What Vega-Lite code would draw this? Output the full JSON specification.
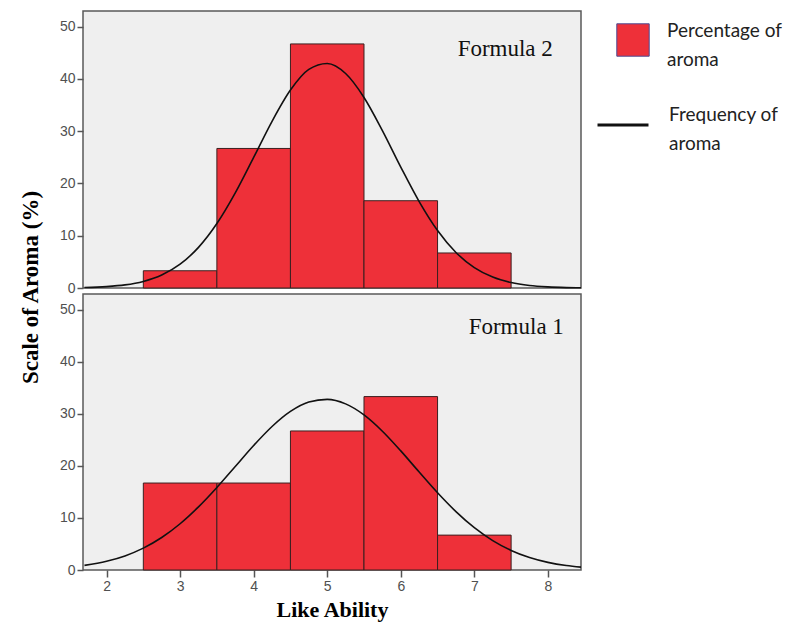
{
  "$schema": "https://vega.github.io/schema/vega-lite/v6.json",
  "background": "white",
  "padding": {"left": 19, "top": 10, "right": 2, "bottom": 2},
  "bounds": "flush",
  "spacing": 6,
  "title": {"text": "Scale of  Aroma (%)", "orient": "left", "anchor": "middle", "font": "Liberation Serif", "fontSize": 23, "fontWeight": "bold", "color": "black", "offset": 16, "dx": 28},
  "config": {
    "view": {"fill": "#efefef", "stroke": "#5a5a5a", "strokeWidth": 1.5},
    "axis": {"labelFont": "Liberation Sans", "labelFontSize": 14, "labelColor": "#505050", "tickColor": "#555555", "tickSize": 6, "tickWidth": 1.5, "domain": false, "grid": false, "titleFont": "Liberation Serif", "titleFontSize": 22, "titleFontWeight": "bold", "titleColor": "black"},
    "legend": {"labelFont": "Lato", "labelFontSize": 19, "labelColor": "#222222", "labelLimit": 300, "padding": 0, "title": null}
  },
  "resolve": {"scale": {"fill": "shared", "stroke": "shared"}},
  "vconcat": [
    {
      "width": 498,
      "height": 277,
      "layer": [
        {
          "data": {"values": [
            {"start": 2.5, "end": 3.5, "pct": 3.3},
            {"start": 3.5, "end": 4.5, "pct": 26.7},
            {"start": 4.5, "end": 5.5, "pct": 46.7},
            {"start": 5.5, "end": 6.5, "pct": 16.7},
            {"start": 6.5, "end": 7.5, "pct": 6.7}
          ]},
          "mark": {"type": "rect", "fill": "#ee3039", "stroke": "#3b2020", "strokeWidth": 1},
          "encoding": {
            "x": {"field": "start", "type": "quantitative", "scale": {"domain": [1.68, 8.45], "nice": false, "zero": false}, "axis": null},
            "x2": {"field": "end"},
            "y": {"field": "pct", "type": "quantitative", "scale": {"domain": [0, 53], "nice": false}, "axis": {"values": [0, 10, 20, 30, 40, 50], "title": null}},
            "y2": {"datum": 0}
          }
        },
        {
          "data": {"values": [
            {"x": 1.7, "pct": 0.09}, {"x": 2.0, "pct": 0.26}, {"x": 2.25, "pct": 0.59}, {"x": 2.5, "pct": 1.26},
            {"x": 2.75, "pct": 2.48}, {"x": 3.0, "pct": 4.55}, {"x": 3.25, "pct": 7.77}, {"x": 3.5, "pct": 12.33},
            {"x": 3.75, "pct": 18.2}, {"x": 4.0, "pct": 24.99}, {"x": 4.25, "pct": 31.9}, {"x": 4.5, "pct": 37.88},
            {"x": 4.75, "pct": 41.83}, {"x": 5.0, "pct": 42.96}, {"x": 5.25, "pct": 41.04}, {"x": 5.5, "pct": 36.46},
            {"x": 5.75, "pct": 30.12}, {"x": 6.0, "pct": 23.14}, {"x": 6.25, "pct": 16.54}, {"x": 6.5, "pct": 10.99},
            {"x": 6.75, "pct": 6.79}, {"x": 7.0, "pct": 3.9}, {"x": 7.25, "pct": 2.09}, {"x": 7.5, "pct": 1.04},
            {"x": 7.75, "pct": 0.48}, {"x": 8.0, "pct": 0.21}, {"x": 8.25, "pct": 0.08}, {"x": 8.45, "pct": 0.04}
          ]},
          "mark": {"type": "line", "color": "#111111", "strokeWidth": 1.6, "interpolate": "monotone"},
          "encoding": {
            "x": {"field": "x", "type": "quantitative"},
            "y": {"field": "pct", "type": "quantitative"}
          }
        },
        {
          "data": {"values": [{"x": 7.42, "pct": 45.8, "label": "Formula 2"}]},
          "mark": {"type": "text", "font": "Liberation Serif", "fontSize": 23, "color": "#111111"},
          "encoding": {
            "x": {"field": "x", "type": "quantitative"},
            "y": {"field": "pct", "type": "quantitative"},
            "text": {"field": "label"}
          }
        }
      ]
    },
    {
      "width": 498,
      "height": 276,
      "layer": [
        {
          "data": {"values": [
            {"start": 2.5, "end": 3.5, "pct": 16.7, "series": "Percentage of aroma"},
            {"start": 3.5, "end": 4.5, "pct": 16.7, "series": "Percentage of aroma"},
            {"start": 4.5, "end": 5.5, "pct": 26.7, "series": "Percentage of aroma"},
            {"start": 5.5, "end": 6.5, "pct": 33.3, "series": "Percentage of aroma"},
            {"start": 6.5, "end": 7.5, "pct": 6.7, "series": "Percentage of aroma"}
          ]},
          "mark": {"type": "rect", "stroke": "#3b2020", "strokeWidth": 1},
          "encoding": {
            "x": {"field": "start", "type": "quantitative", "scale": {"domain": [1.68, 8.45], "nice": false, "zero": false}, "axis": {"values": [2, 3, 4, 5, 6, 7, 8], "format": "d", "title": "Like Ability", "tickSize": 7, "labelPadding": 2, "titlePadding": 6}},
            "x2": {"field": "end"},
            "y": {"field": "pct", "type": "quantitative", "scale": {"domain": [0, 53], "nice": false}, "axis": {"values": [0, 10, 20, 30, 40, 50], "title": null}},
            "y2": {"datum": 0},
            "fill": {"field": "series", "type": "nominal", "scale": {"domain": ["Percentage of aroma"], "range": ["#ee3039"]},
              "legend": {"orient": "none", "legendX": 533, "legendY": 12, "symbolType": "square", "symbolSize": 1050, "symbolStrokeColor": "#4c4c94", "symbolStrokeWidth": 1, "labelOffset": 17, "labelExpr": "['Percentage of', 'aroma']",
                "encoding": {"labels": {"lineHeight": {"value": 29}, "dy": {"value": -9}}}}}
          }
        },
        {
          "data": {"values": [
            {"x": 1.7, "pct": 0.89, "series": "Frequency of aroma"}, {"x": 2.0, "pct": 1.68, "series": "Frequency of aroma"},
            {"x": 2.25, "pct": 2.71, "series": "Frequency of aroma"}, {"x": 2.5, "pct": 4.2, "series": "Frequency of aroma"},
            {"x": 2.75, "pct": 6.24, "series": "Frequency of aroma"}, {"x": 3.0, "pct": 8.88, "series": "Frequency of aroma"},
            {"x": 3.25, "pct": 12.12, "series": "Frequency of aroma"}, {"x": 3.5, "pct": 15.85, "series": "Frequency of aroma"},
            {"x": 3.75, "pct": 19.88, "series": "Frequency of aroma"}, {"x": 4.0, "pct": 23.91, "series": "Frequency of aroma"},
            {"x": 4.25, "pct": 27.56, "series": "Frequency of aroma"}, {"x": 4.5, "pct": 30.45, "series": "Frequency of aroma"},
            {"x": 4.75, "pct": 32.26, "series": "Frequency of aroma"}, {"x": 5.0, "pct": 32.77, "series": "Frequency of aroma"},
            {"x": 5.25, "pct": 31.9, "series": "Frequency of aroma"}, {"x": 5.5, "pct": 29.78, "series": "Frequency of aroma"},
            {"x": 5.75, "pct": 26.65, "series": "Frequency of aroma"}, {"x": 6.0, "pct": 22.87, "series": "Frequency of aroma"},
            {"x": 6.25, "pct": 18.81, "series": "Frequency of aroma"}, {"x": 6.5, "pct": 14.83, "series": "Frequency of aroma"},
            {"x": 6.75, "pct": 11.21, "series": "Frequency of aroma"}, {"x": 7.0, "pct": 8.12, "series": "Frequency of aroma"},
            {"x": 7.25, "pct": 5.64, "series": "Frequency of aroma"}, {"x": 7.5, "pct": 3.76, "series": "Frequency of aroma"},
            {"x": 7.75, "pct": 2.4, "series": "Frequency of aroma"}, {"x": 8.0, "pct": 1.47, "series": "Frequency of aroma"},
            {"x": 8.25, "pct": 0.86, "series": "Frequency of aroma"}, {"x": 8.45, "pct": 0.55, "series": "Frequency of aroma"}
          ]},
          "mark": {"type": "line", "strokeWidth": 1.6, "interpolate": "monotone"},
          "encoding": {
            "x": {"field": "x", "type": "quantitative"},
            "y": {"field": "pct", "type": "quantitative"},
            "stroke": {"field": "series", "type": "nominal", "scale": {"domain": ["Frequency of aroma"], "range": ["#111111"]},
              "legend": {"orient": "none", "legendX": 513, "legendY": 87, "symbolType": "stroke", "symbolSize": 2600, "symbolStrokeWidth": 3, "labelOffset": 19, "labelExpr": "['Frequency of', 'aroma']",
                "encoding": {"labels": {"lineHeight": {"value": 29}, "dy": {"value": -10}}}}}
          }
        },
        {
          "data": {"values": [{"x": 7.57, "pct": 46.6, "label": "Formula 1"}]},
          "mark": {"type": "text", "font": "Liberation Serif", "fontSize": 23, "color": "#111111"},
          "encoding": {
            "x": {"field": "x", "type": "quantitative"},
            "y": {"field": "pct", "type": "quantitative"},
            "text": {"field": "label"}
          }
        }
      ]
    }
  ]
}
